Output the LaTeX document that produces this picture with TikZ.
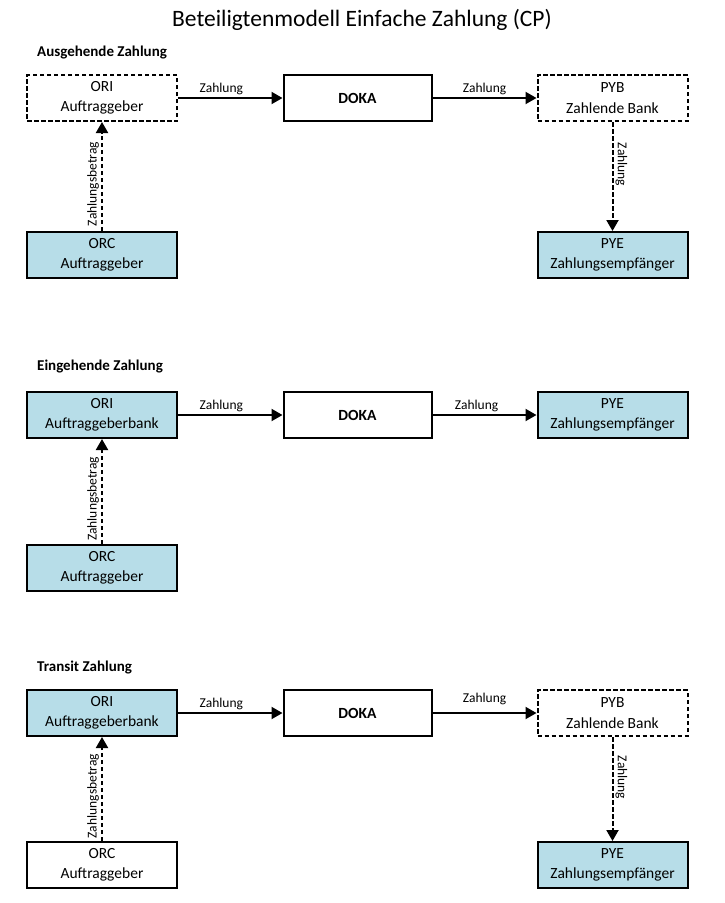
\documentclass[tikz,border=0pt]{standalone}
\usepackage{fontspec}
\setmainfont{Carlito}
\usetikzlibrary{arrows.meta}
\definecolor{boxblue}{HTML}{B7DDE8}
\tikzset{
  box/.style={draw=black, line width=2pt, minimum width=150pt, minimum height=46pt, inner sep=0pt, align=center, font=\fontsize{15.5}{20.5}\selectfont},
  dbox/.style={box, dash pattern=on 4.5pt off 2.5pt},
  bluebox/.style={box, fill=boxblue},
  flow/.style={line width=2pt, -{Triangle[length=11pt,width=12pt]}},
  dflow/.style={flow, dash pattern=on 4.5pt off 2.5pt},
  lbl/.style={font=\fontsize{13.5}{15}\selectfont, inner sep=2pt},
  sect/.style={font=\bfseries\fontsize{15}{16}\selectfont, anchor=west, inner sep=0pt},
}
\begin{document}
\begin{tikzpicture}[x=1pt, y=-1pt]
\useasboundingbox (0,0) rectangle (724,903);
\node[font=\fontsize{23.5}{26}\selectfont] (title) at (362,20) {Beteiligtenmodell Einfache Zahlung (CP)};

% Section 1
\node[sect] (s1) at (37,53) {Ausgehende Zahlung};
\node[dbox] (ori1) at (102,98) {ORI\\Auftraggeber};
\node[box, minimum width=148pt] (doka1) at (357.5,98) {\textbf{DOKA}};
\node[dbox] (pyb1) at (612.5,98) {PYB\\Zahlende Bank};
\node[bluebox] (orc1) at (102,255) {ORC\\Auftraggeber};
\node[bluebox] (pye1) at (612.5,255) {PYE\\Zahlungsempfänger};
\draw[flow] (ori1) -- node[lbl, above, xshift=-9pt] {Zahlung} (doka1);
\draw[flow] (doka1) -- node[lbl, above] {Zahlung} (pyb1);
\draw[dflow] (orc1) -- node[lbl, pos=0.43, rotate=90, above] {Zahlungsbetrag} (ori1);
\draw[dflow] (pyb1) -- node[lbl, pos=0.39, rotate=-90, above] {Zahlung} (pye1);

% Section 2
\node[sect] (s2) at (37,367) {Eingehende Zahlung};
\node[bluebox] (ori2) at (102,415) {ORI\\Auftraggeberbank};
\node[box, minimum width=148pt] (doka2) at (357.5,415) {\textbf{DOKA}};
\node[bluebox] (pye2) at (612.5,415) {PYE\\Zahlungsempfänger};
\node[bluebox] (orc2) at (102,568) {ORC\\Auftraggeber};
\draw[flow] (ori2) -- node[lbl, above, xshift=-9pt] {Zahlung} (doka2);
\draw[flow] (doka2) -- node[lbl, above, xshift=-8pt] {Zahlung} (pye2);
\draw[dflow] (orc2) -- node[lbl, pos=0.43, rotate=90, above] {Zahlungsbetrag} (ori2);

% Section 3
\node[sect] (s3) at (37,667) {Transit Zahlung};
\node[bluebox] (ori3) at (102,713) {ORI\\Auftraggeberbank};
\node[box, minimum width=148pt] (doka3) at (357.5,713) {\textbf{DOKA}};
\node[dbox] (pyb3) at (612.5,713) {PYB\\Zahlende Bank};
\node[box] (orc3) at (102,865) {ORC\\Auftraggeber};
\node[bluebox] (pye3) at (612.5,865) {PYE\\Zahlungsempfänger};
\draw[flow] (ori3) -- node[lbl, above, xshift=-9pt] {Zahlung} (doka3);
\draw[flow] (doka3) -- node[lbl, above, yshift=5pt] {Zahlung} (pyb3);
\draw[dflow] (orc3) -- node[lbl, pos=0.43, rotate=90, above] {Zahlungsbetrag} (ori3);
\draw[dflow] (pyb3) -- node[lbl, pos=0.39, rotate=-90, above] {Zahlung} (pye3);
\end{tikzpicture}
\end{document}
